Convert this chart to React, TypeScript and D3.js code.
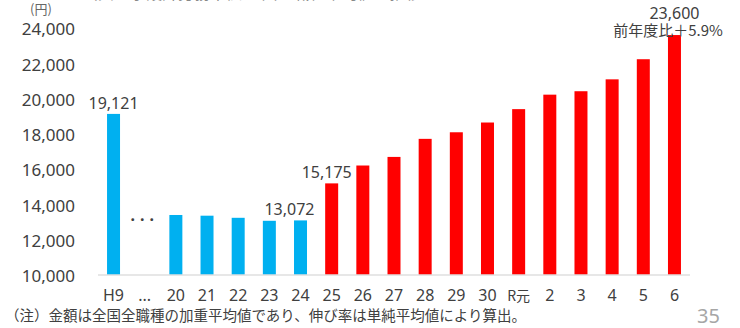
import React from "react";
import * as d3 from "d3";

const categories = ["H9", "…", "20", "21", "22", "23", "24", "25", "26", "27", "28", "29", "30", "R元", "2", "3", "4", "5", "6"];
const values: (number | null)[] = [19121, null, 13380, 13340, 13220, 13050, 13072, 15175, 16190, 16678, 17704, 18078, 18632, 19392, 20214, 20409, 21084, 22227, 23600];
const barColors = ["blue", "none", "blue", "blue", "blue", "blue", "blue", "red", "red", "red", "red", "red", "red", "red", "red", "red", "red", "red", "red"];
const yTicks = [10000, 12000, 14000, 16000, 18000, 20000, 22000, 24000];
const valueLabels = [
  { cat: "H9", text: "19,121", dx: 0 },
  { cat: "24", text: "13,072", dx: -11 },
  { cat: "25", text: "15,175", dx: -5 },
  { cat: "6", text: "23,600", dx: 0 },
];
const growthNote = "前年度比＋5.9%";
const unitLabel = "(円)";
const footnote = "（注）金額は全国全職種の加重平均値であり、伸び率は単純平均値により算出。";
const pageNumber = "35";
const topTitle = "公共工事設計労務単価 全国全職種平均値の推移";

const FONT = "'Noto Sans', 'Noto Sans CJK JP', sans-serif";
const JFONT = "'Noto Sans CJK JP', 'Noto Sans', sans-serif";
const TEXT = "#404040";
const COLORS: Record<string, string> = { blue: "#00B0F0", red: "#FF0000" };

export default function App() {
  const width = 740;
  const height = 328;
  const x = d3.scaleBand<string>().domain(categories).range([98, 690]).paddingInner(0.583).paddingOuter(0.29);
  const y = d3.scaleLinear().domain([10000, 24000]).range([274.5, 28]);
  const fmt = d3.format(",");

  return (
    <svg
      width={width}
      height={height}
      style={{ position: "absolute", left: 0, top: 0, background: "#fff" }}
      fontFamily={FONT}
    >
      <text x={82} y={-1} fontSize={16} fill="#888" fontFamily={JFONT}>{topTitle}</text>
      <text x={30} y={14} fontSize={13} fill="#666" fontFamily={JFONT}>{unitLabel}</text>
      {yTicks.map((t) => (
        <text key={t} x={75} y={y(t) + 1.5} dy="0.35em" textAnchor="end" fontSize={17} fill={TEXT}>
          {fmt(t)}
        </text>
      ))}
      {categories.map((c, i) => {
        const v = values[i];
        if (v == null) return null;
        return (
          <rect
            key={c}
            x={x(c)!}
            y={y(v)}
            width={x.bandwidth()}
            height={y(10000) - y(v)}
            fill={COLORS[barColors[i]]}
          />
        );
      })}
      <line x1={98} x2={690} y1={y(10000) + 0.5} y2={y(10000) + 0.5} stroke="#d0d0d0" strokeWidth={1.2} />
      <text
        x={x("…")! + x.bandwidth() / 2}
        y={y(13300) + 5}
        textAnchor="middle"
        fontSize={16}
        fontWeight="bold"
        letterSpacing={5}
        fill={TEXT}
      >
        ...
      </text>
      {categories.map((c) => (
        <text
          key={c}
          x={x(c)! + x.bandwidth() / 2}
          y={301}
          textAnchor="middle"
          fontSize={c === "R元" ? 14 : 16}
          fill={TEXT}
          fontFamily={c === "R元" ? JFONT : FONT}
        >
          {c === "…" ? "..." : c}
        </text>
      ))}
      {valueLabels.map((l) => {
        const i = categories.indexOf(l.cat);
        const v = values[i]!;
        return (
          <text
            key={l.cat}
            x={x(l.cat)! + x.bandwidth() / 2 + l.dx}
            y={l.cat === "6" ? 19 : y(v) - 5}
            textAnchor="middle"
            fontSize={16}
            fill={TEXT}
          >
            {l.text}
          </text>
        );
      })}
      <text x={668} y={36} textAnchor="middle" fontSize={15} fill={TEXT} fontFamily={JFONT}>
        {growthNote}
      </text>
      <text x={5} y={321} fontSize={14.5} fill={TEXT} fontFamily={JFONT}>{footnote}</text>
      <text x={697} y={323} fontSize={20} fill="#a6a6a6">{pageNumber}</text>
    </svg>
  );
}
